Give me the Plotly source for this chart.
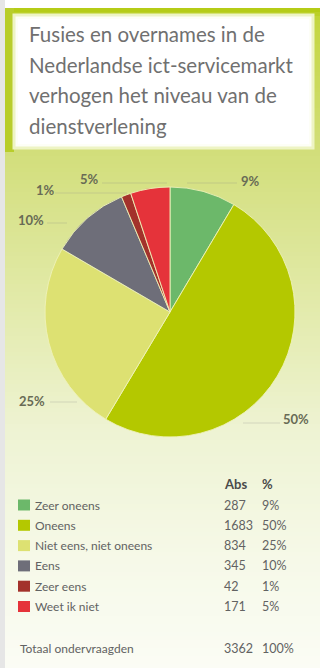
import plotly.graph_objects as go

W, H = 320, 668

# ---- data ----
categories = ["Zeer oneens", "Oneens", "Niet eens, niet oneens", "Eens", "Zeer eens", "Weet ik niet"]
abs_values = [287, 1683, 834, 345, 42, 171]
pct_labels = ["9%", "50%", "25%", "10%", "1%", "5%"]
total_label = "Totaal ondervraagden"
total_abs = 3362
total_pct = "100%"
title_lines = ["Fusies en overnames in de", "Nederlandse ict-servicemarkt",
               "verhogen het niveau van de", "dienstverlening"]
colors = ["#6cb86a", "#b4c800", "#dde172", "#6e6e79", "#a3322b", "#e5333a"]

def px(x):
    return x / W

def py(y):
    return 1 - y / H

def lerp(c1, c2, t):
    a = [int(c1[i:i + 2], 16) for i in (1, 3, 5)]
    b = [int(c2[i:i + 2], 16) for i in (1, 3, 5)]
    return "#%02x%02x%02x" % tuple(round(a[k] + (b[k] - a[k]) * t) for k in range(3))

shapes = []
# background gradient
stops = [(8, "#b2ca0e"), (20, "#c4d640"), (150, "#d2de7a"), (300, "#e2eaa9"),
         (430, "#eef3d3"), (560, "#f6f9e8"), (668, "#fbfcf5")]
step = 4
y = 8
while y < H:
    yc = y + step / 2
    for (ya, ca), (yb, cb) in zip(stops[:-1], stops[1:]):
        if ya <= yc <= yb:
            col = lerp(ca, cb, (yc - ya) / (yb - ya))
            break
    shapes.append(dict(type="rect", xref="paper", yref="paper", layer="below",
                       x0=px(5), x1=px(W), y0=py(min(y + step + 0.5, H)), y1=py(y),
                       fillcolor=col, line=dict(width=0)))
    y += step
# left grey strip
shapes.append(dict(type="rect", xref="paper", yref="paper", layer="below",
                   x0=0, x1=px(5), y0=0, y1=1, fillcolor="#e6e6e6", line=dict(width=0)))
# left green frame edge near title
shapes.append(dict(type="rect", xref="paper", yref="paper", layer="below",
                   x0=px(5), x1=px(14), y0=py(152), y1=py(8), fillcolor="#b8cd2a", line=dict(width=0)))
# title box
shapes.append(dict(type="rect", xref="paper", yref="paper", layer="below",
                   x0=px(14), x1=px(313), y0=py(148), y1=py(15), fillcolor="#fdfef6",
                   line=dict(color="#eef4c4", width=3)))
shapes.append(dict(type="rect", xref="paper", yref="paper", layer="below",
                   x0=px(18), x1=px(309), y0=py(144), y1=py(19), fillcolor="#ffffff",
                   line=dict(width=0)))

# leader lines for pie labels
leaders = [(187, 237, 183), (102, 167, 183), (55, 127, 193), (47, 67, 223), (50, 77, 402), (243, 280, 423)]
for (x0, x1, yy) in leaders:
    shapes.append(dict(type="line", xref="paper", yref="paper", layer="above",
                       x0=px(x0), x1=px(x1), y0=py(yy), y1=py(yy),
                       line=dict(color="rgba(140,140,140,0.25)", width=1)))

annotations = []
# title
baselines = [41, 72, 102, 133]
for line, b in zip(title_lines, baselines):
    annotations.append(dict(text=line, xref="paper", yref="paper", x=px(27), y=py(b - 7),
                            xanchor="left", yanchor="middle", showarrow=False,
                            font=dict(family="Lato", size=20.5, color="#707070")))

# pie labels
label_pos = {0: (250, 181), 5: (89, 179), 4: (45, 190), 3: (31, 220), 2: (32, 401), 1: (296, 419)}
for i, (lx, ly) in label_pos.items():
    annotations.append(dict(text=pct_labels[i], xref="paper", yref="paper", x=px(lx), y=py(ly),
                            xanchor="center", yanchor="middle", showarrow=False,
                            font=dict(family="Lato", size=13, color="#686b55", weight=700)))

# table
tfont = dict(family="Lato", size=12, color="#626262")
nfont = dict(family="Lato", size=12.5, color="#626262")
col_label, col_abs, col_pct = 33, 222, 260
annotations.append(dict(text="Abs", xref="paper", yref="paper", x=px(col_abs), y=py(484),
                        xanchor="left", yanchor="middle", showarrow=False,
                        font=dict(family="Lato", size=13, color="#4a4a4a", weight=700)))
annotations.append(dict(text="%", xref="paper", yref="paper", x=px(col_pct), y=py(484),
                        xanchor="left", yanchor="middle", showarrow=False,
                        font=dict(family="Lato", size=13, color="#4a4a4a", weight=700)))
for i, cat in enumerate(categories):
    ry = 505 + i * 20.3
    shapes.append(dict(type="rect", xref="paper", yref="paper", layer="above",
                       x0=px(18), x1=px(30), y0=py(ry + 5.5), y1=py(ry - 5.5),
                       fillcolor=colors[i], line=dict(width=0)))
    annotations.append(dict(text=cat, xref="paper", yref="paper", x=px(col_label), y=py(ry),
                            xanchor="left", yanchor="middle", showarrow=False, font=tfont))
    annotations.append(dict(text=str(abs_values[i]), xref="paper", yref="paper", x=px(col_abs), y=py(ry),
                            xanchor="left", yanchor="middle", showarrow=False, font=nfont))
    annotations.append(dict(text=pct_labels[i], xref="paper", yref="paper", x=px(col_pct), y=py(ry),
                            xanchor="left", yanchor="middle", showarrow=False, font=nfont))
annotations.append(dict(text=total_label, xref="paper", yref="paper", x=px(18), y=py(648),
                        xanchor="left", yanchor="middle", showarrow=False, font=tfont))
for txt, xx in [(str(total_abs), col_abs), (total_pct, col_pct)]:
    annotations.append(dict(text=txt, xref="paper", yref="paper", x=px(xx), y=py(648),
                            xanchor="left", yanchor="middle", showarrow=False, font=nfont))

pie = go.Pie(labels=categories, values=abs_values, sort=False, direction="clockwise",
             rotation=0, textinfo="none", hoverinfo="skip", showlegend=False,
             marker=dict(colors=colors, line=dict(color="rgba(238,242,185,0.9)", width=1)),
             domain=dict(x=[px(45), px(295)], y=[py(437), py(187)]))

fig = go.Figure(pie)
fig.update_layout(width=W, height=H, margin=dict(l=0, r=0, t=0, b=0),
                  paper_bgcolor="#ffffff", plot_bgcolor="rgba(0,0,0,0)",
                  shapes=shapes, annotations=annotations)
fig.write_html("out.html", config={"displayModeBar": False})
